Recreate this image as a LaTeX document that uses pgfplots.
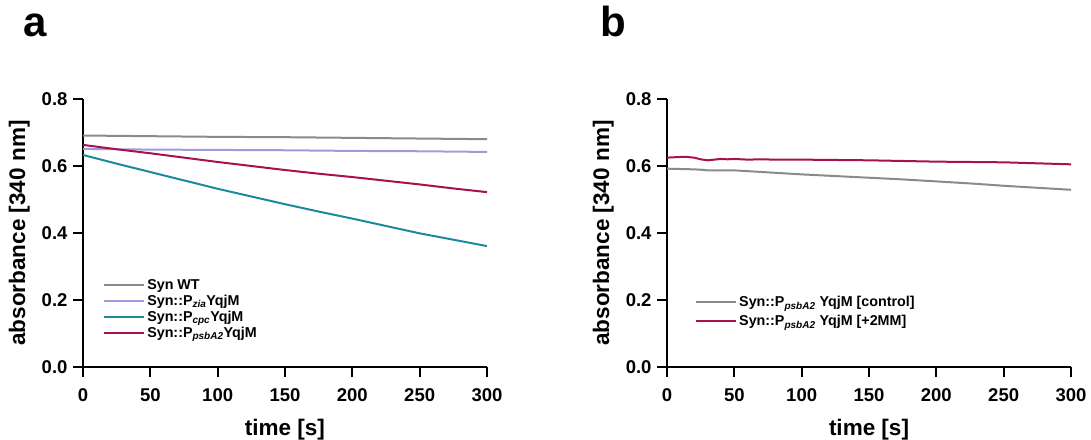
\documentclass[border=0pt]{standalone}
\usepackage{pgfplots}
\pgfplotsset{compat=1.18}
\usepackage{fontspec}
\setmainfont{Liberation Sans}
\definecolor{cgray}{HTML}{8A8A8A}
\definecolor{cpurple}{HTML}{9C9CDC}
\definecolor{cteal}{HTML}{1A8A9C}
\definecolor{cred}{HTML}{A8104F}
\pgfplotsset{
  myaxis/.style={
    scale only axis, width=404pt, height=268pt,
    xmin=0, xmax=300, ymin=0, ymax=0.8,
    axis x line=bottom, axis y line=left,
    axis line style={-, line width=1.8pt},
    xtick={0,50,...,300}, ytick={0,0.2,...,0.8},
    xtick align=outside, ytick align=outside, major tick length=10pt,
    xtick style={line width=1.8pt, black, solid},
    ytick style={line width=1.8pt, black, solid},
    /pgf/number format/assume math mode=true,
    yticklabel style={/pgf/number format/fixed, /pgf/number format/fixed zerofill, /pgf/number format/precision=1, xshift=-2pt},
    xticklabel style={yshift=-8pt},
    ticklabel style={font=\fontsize{18.5}{21}\selectfont\bfseries},
    xlabel={time [s]}, ylabel={absorbance [340 nm]},
    label style={font=\fontsize{22.5}{25}\selectfont\bfseries},
    xlabel shift=11pt, ylabel shift=5pt,
    legend style={draw=none, fill=none, font=\fontsize{14.3}{16}\selectfont\bfseries, row sep=0pt, inner sep=0pt},
    legend cell align=left,
    legend image code/.code={\draw[#1, line width=2pt] (0pt,0pt) -- (28pt,0pt); \path (0pt,0pt) -- (40pt,0pt);},
    every axis plot/.append style={line width=2pt, mark=none},
  }
}
\begin{document}
\begin{tikzpicture}
\useasboundingbox (0pt,0pt) rectangle (1091pt,439pt);
\node[font=\fontsize{42}{46}\selectfont\bfseries, anchor=base, inner sep=0pt] at (35pt,402pt) {a};
\node[font=\fontsize{42}{46}\selectfont\bfseries, anchor=base, inner sep=0pt] at (613pt,402pt) {b};
\begin{axis}[myaxis, at={(83pt,72pt)}, anchor=south west,
  legend style={at={(axis cs:14.9,0.078)}, anchor=south west}]
\addplot[cgray] coordinates {(0,0.691) (50,0.689) (100,0.687) (150,0.686) (200,0.684) (250,0.682) (300,0.680)};
\addlegendentry{Syn WT}
\addplot[cpurple] coordinates {(0,0.651) (50,0.649) (100,0.648) (150,0.647) (200,0.645) (250,0.644) (300,0.642)};
\addlegendentry{Syn::P\textsubscript{\textit{zia}}YqjM}
\addplot[cteal] coordinates {(0,0.633) (25,0.607) (50,0.582) (75,0.557) (100,0.532) (125,0.509) (150,0.486) (175,0.464) (200,0.443) (225,0.421) (250,0.399) (275,0.380) (300,0.361)};
\addlegendentry{Syn::P\textsubscript{\textit{cpc}}YqjM}
\addplot[cred] coordinates {(0,0.663) (25,0.650) (50,0.638) (75,0.625) (100,0.612) (125,0.600) (150,0.588) (175,0.577) (200,0.567) (225,0.556) (250,0.545) (275,0.533) (300,0.522)};
\addlegendentry{Syn::P\textsubscript{\textit{psbA2}}YqjM}
\end{axis}
\begin{axis}[myaxis, at={(667pt,72pt)}, anchor=south west,
  legend style={at={(axis cs:20.8,0.112)}, anchor=south west, row sep=3pt}]
\addplot[cgray] coordinates {(0,0.592) (10,0.591) (20,0.590) (25,0.589) (30,0.587) (40,0.587) (50,0.587) (75,0.581) (100,0.575) (125,0.570) (150,0.565) (175,0.560) (200,0.554) (225,0.548) (250,0.541) (275,0.535) (300,0.529)};
\addlegendentry{Syn::P\textsubscript{\textit{psbA2}} YqjM [control]}
\addplot[cred] coordinates {(0,0.625) (5,0.626) (10,0.627) (15,0.627) (20,0.625) (25,0.620) (30,0.617) (35,0.619) (40,0.621) (45,0.620) (50,0.621) (55,0.620) (60,0.619) (70,0.620) (80,0.619) (100,0.619) (125,0.618) (150,0.617) (175,0.615) (200,0.613) (225,0.612) (250,0.611) (275,0.608) (300,0.605)};
\addlegendentry{Syn::P\textsubscript{\textit{psbA2}} YqjM [+2MM]}
\end{axis}
% tick marks (decoration), drawn at picture level
\foreach \ox in {83,667} {
  \foreach \k in {0,...,6} {\draw[line width=1.8pt, black] ({\ox pt+67.3333pt*\k},72pt) -- ++(0pt,-10pt);}
  \foreach \k in {0,...,4} {\draw[line width=1.8pt, black] (\ox pt,{72pt+67pt*\k}) -- ++(-10pt,0pt);}
}
\end{tikzpicture}
\end{document}
